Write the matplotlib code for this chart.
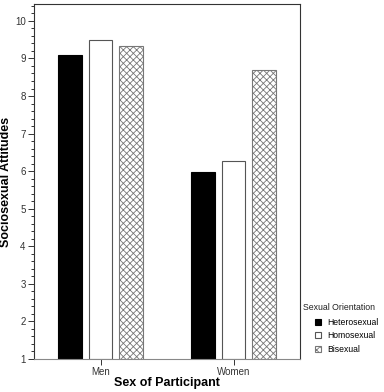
import matplotlib
matplotlib.use("Agg")
import matplotlib.pyplot as plt
import numpy as np
from matplotlib.ticker import MultipleLocator

plt.rcParams["font.family"] = ["Liberation Sans", "DejaVu Sans"]
plt.rcParams["hatch.linewidth"] = 0.6

groups = ["Men", "Women"]
orientations = ["Heterosexual", "Homosexual", "Bisexual"]
values = {
    "Heterosexual": [9.08, 5.98],
    "Homosexual": [9.50, 6.27],
    "Bisexual": [9.33, 8.68],
}
faces = {"Heterosexual": "black", "Homosexual": "white", "Bisexual": "white"}
hatches = {"Heterosexual": None, "Homosexual": None, "Bisexual": "xxxxx"}
edges = {"Heterosexual": "black", "Homosexual": "#555555", "Bisexual": "#777777"}

W, H = 384, 392
fig = plt.figure(figsize=(W / 100, H / 100), dpi=100)
ax = fig.add_axes([34 / W, 1 - 359 / H, 266 / W, 355 / H])

x = np.arange(len(groups))
width, step = 0.18, 0.232
for i, name in enumerate(orientations):
    ax.bar(x + (i - 1) * step, np.array(values[name]) - 1, width, bottom=1,
           color=faces[name], edgecolor=edges[name], hatch=hatches[name],
           linewidth=0.8, label=name)

ax.set_xlim(-0.5, 1.5)
ax.set_ylim(1, 10.45)
ax.set_xticks(x)
ax.set_xticklabels(groups)
ax.yaxis.set_major_locator(MultipleLocator(1))
ax.yaxis.set_minor_locator(MultipleLocator(0.2))
ax.tick_params(axis="both", labelsize=7, colors="#333333", length=4, width=0.7, pad=2)
ax.tick_params(axis="y", which="minor", length=2, width=0.7, color="#333333")
for s in ax.spines.values():
    s.set_color("#333333")
    s.set_linewidth(0.8)
ax.spines["bottom"].set_color("#888888")

ax.set_ylabel("Sociosexual Attitudes", fontsize=9, fontweight="bold")
ax.set_xlabel("Sex of Participant", fontsize=9, fontweight="bold")
ax.yaxis.set_label_coords(-(34 - 6) / 266, 0.5)
ax.xaxis.set_label_coords(0.5, -(383 - 359) / 355)
ax.xaxis.label.set_va("center")
ax.yaxis.label.set_va("center")

fig.text(303 / W, 1 - 308 / H, "Sexual Orientation", fontsize=6.3, color="#222222",
         va="center", ha="left")
leg = fig.legend(loc="upper left", bbox_to_anchor=(315 / W, 1 - 318 / H),
                 fontsize=6.2, frameon=False, handlelength=0.7, handleheight=0.7,
                 handletextpad=0.7, labelspacing=0.5, borderpad=0, borderaxespad=0)

fig.savefig("out.png", dpi=100)
